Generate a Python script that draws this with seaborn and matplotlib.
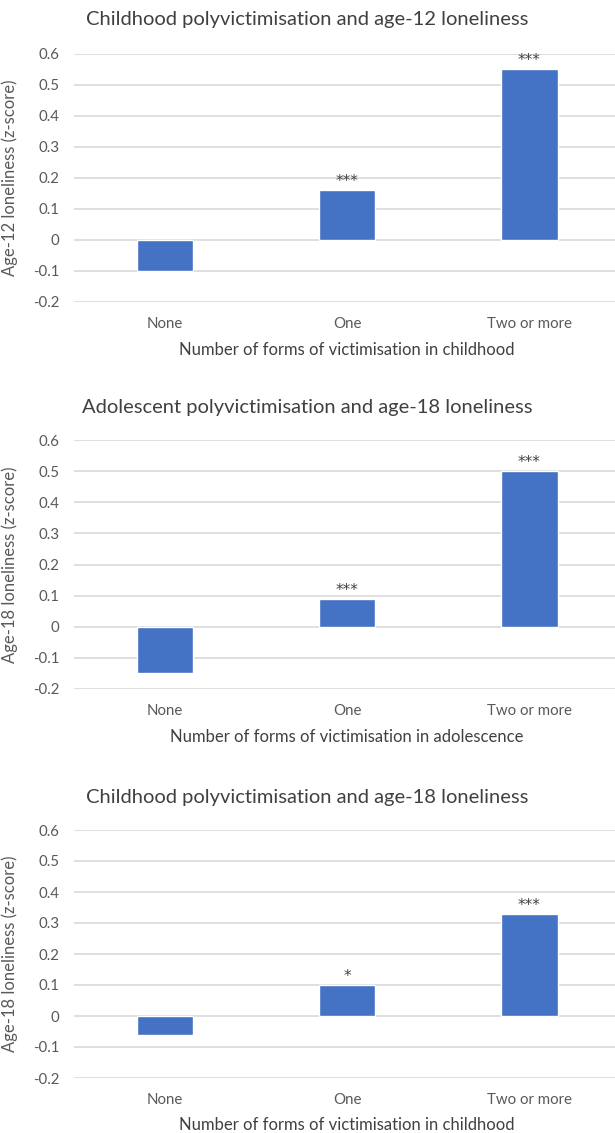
import matplotlib
matplotlib.use("Agg")
import matplotlib.pyplot as plt
import seaborn as sns
import pandas as pd

# ---- data ----
categories = ["None", "One", "Two or more"]
values_child12 = [-0.10, 0.16, 0.55]
values_adol18 = [-0.15, 0.09, 0.50]
values_child18 = [-0.06, 0.10, 0.33]
stars_child12 = ["", "***", "***"]
stars_adol18 = ["", "***", "***"]
stars_child18 = ["", "*", "***"]
titles = [
    "Childhood polyvictimisation and age-12 loneliness",
    "Adolescent polyvictimisation and age-18 loneliness",
    "Childhood polyvictimisation and age-18 loneliness",
]
ylabels = [
    "Age-12 loneliness (z-score)",
    "Age-18 loneliness (z-score)",
    "Age-18 loneliness (z-score)",
]
xlabels = [
    "Number of forms of victimisation in childhood",
    "Number of forms of victimisation in adolescence",
    "Number of forms of victimisation in childhood",
]
ytick_values = [-0.2, -0.1, 0, 0.1, 0.2, 0.3, 0.4, 0.5, 0.6]
ytick_labels = ["-0.2", "-0.1", "0", "0.1", "0.2", "0.3", "0.4", "0.5", "0.6"]

series = [values_child12, values_adol18, values_child18]
stars = [stars_child12, stars_adol18, stars_child18]

# ---- style ----
sns.set_theme(style="white")
plt.rcParams["font.family"] = ["Lato", "DejaVu Sans"]

W, H = 615, 1133
fig = plt.figure(figsize=(W / 100, H / 100), dpi=100)
fig.patch.set_facecolor("white")

bar_color = "#4472C4"
grid_color = "#D9D9D9"
tick_color = "#595959"
title_color = "#404040"

left_px, right_px = 74, 615
tops = [54, 440, 830]
bottoms = [302, 689, 1078]
title_y = [19, 408, 798]
xlabel_y = [350, 737, 1125]

for i in range(3):
    ax = fig.add_axes([left_px / W, 1 - bottoms[i] / H,
                       (right_px - left_px) / W, (bottoms[i] - tops[i]) / H])
    df = pd.DataFrame({"cat": categories, "val": series[i]})
    sns.barplot(data=df, x="cat", y="val", color=bar_color, saturation=1,
                width=0.31, ax=ax, zorder=3)
    ax.set_xlim(-0.5, 2.47)
    ax.set_ylim(-0.2, 0.6)
    ax.set_yticks(ytick_values)
    ax.set_yticklabels(ytick_labels)
    ax.yaxis.grid(True, color=grid_color, linewidth=1.2, zorder=0)
    ax.set_axisbelow(True)
    for s in ax.spines.values():
        s.set_visible(False)
    ax.tick_params(axis="both", length=0, labelsize=10.8, colors=tick_color)
    ax.tick_params(axis="x", pad=10.5)
    ax.tick_params(axis="y", pad=10.5)
    ax.set_xlabel("")
    ax.set_ylabel(ylabels[i], fontsize=12, color=tick_color)
    ax.yaxis.set_label_coords((18 - left_px) / (right_px - left_px), 0.5)
    for j, (v, s) in enumerate(zip(series[i], stars[i])):
        if s:
            ax.annotate(s, xy=(j, v), xytext=(0, 3), textcoords="offset points",
                        ha="center", va="baseline", fontsize=11,
                        family="DejaVu Sans", color=title_color)
    fig.text(0.5, 1 - title_y[i] / H, titles[i], ha="center", va="center",
             fontsize=14.5, color=title_color)
    fig.text(347 / W, 1 - xlabel_y[i] / H, xlabels[i],
             ha="center", va="center", fontsize=12, color=title_color)

fig.savefig("out.png", dpi=100, facecolor="white")
